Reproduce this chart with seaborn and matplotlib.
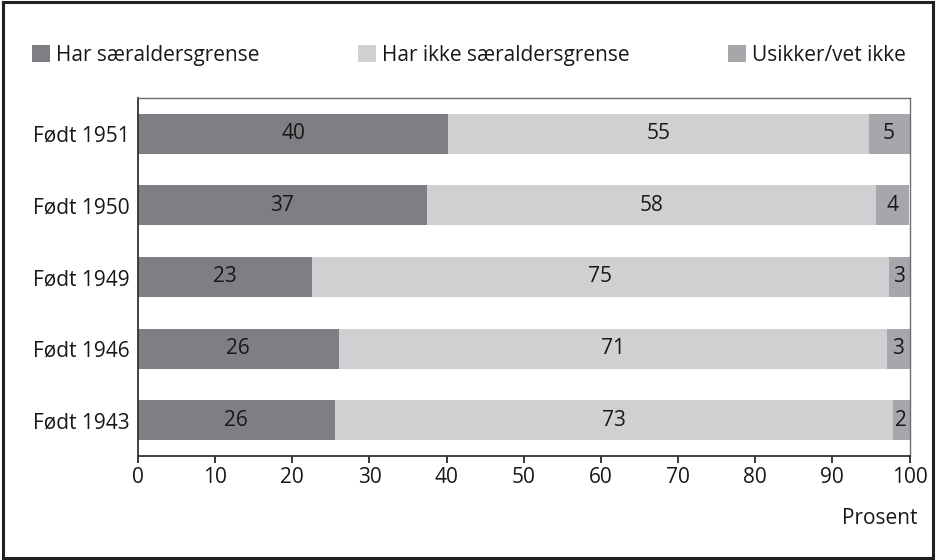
import numpy as np
import pandas as pd
import matplotlib.pyplot as plt
import seaborn as sns
from matplotlib.patches import Patch, Rectangle

# Data (bar widths in percent, labels as printed)
kohorter = ["Født 1951", "Født 1950", "Født 1949", "Født 1946", "Født 1943"]
har_grense = [40.2, 37.4, 22.5, 26.0, 25.5]
har_ikke_grense = [54.5, 58.3, 74.8, 71.1, 72.4]
usikker = [5.3, 4.3, 2.7, 2.9, 2.1]
etiketter_har = [40, 37, 23, 26, 26]
etiketter_ikke = [55, 58, 75, 71, 73]
etiketter_usikker = [5, 4, 3, 3, 2]
serier = ["Har særaldersgrense", "Har ikke særaldersgrense", "Usikker/vet ikke"]
farger = ["#7e7f83", "#cfd0d2", "#a6a7aa"]

sns.set_style("white")
plt.rcParams['font.family'] = ['Open Sans', 'DejaVu Sans']
plt.rcParams['font.size'] = 15
plt.rcParams['text.color'] = '#1a1718'
plt.rcParams['xtick.color'] = '#1a1718'
plt.rcParams['ytick.color'] = '#1a1718'

df = pd.DataFrame({
    "kohort": kohorter,
    "har": har_grense,
    "ikke": har_ikke_grense,
    "usikker": usikker,
})
df["kum1"] = df["har"]
df["kum2"] = df["har"] + df["ikke"]
df["kum3"] = df["kum2"] + df["usikker"]

fig = plt.figure(figsize=(9.36, 5.6), dpi=100)
ax = fig.add_axes([138 / 936, 1 - 456 / 560, (909.5 - 138) / 936, (456 - 98) / 560])

# Stacked bars: draw cumulative totals back to front
bredde = 0.56
sns.barplot(data=df, y="kohort", x="kum3", color=farger[2], width=bredde,
            saturation=1, ax=ax, order=kohorter)
sns.barplot(data=df, y="kohort", x="kum2", color=farger[1], width=bredde,
            saturation=1, ax=ax, order=kohorter)
sns.barplot(data=df, y="kohort", x="kum1", color=farger[0], width=bredde,
            saturation=1, ax=ax, order=kohorter)
for p in ax.patches:
    p.set_linewidth(0)

# Value labels centred in each segment
for i in range(len(kohorter)):
    ax.text(df["har"][i] / 2, i, str(etiketter_har[i]), ha="center", va="center")
    ax.text(df["har"][i] + df["ikke"][i] / 2, i, str(etiketter_ikke[i]),
            ha="center", va="center")
    ax.text(df["kum2"][i] + df["usikker"][i] / 2, i, str(etiketter_usikker[i]),
            ha="center", va="center")

ax.set_xlim(0, 100)
ax.set_ylim(4.5, -0.5)
ax.set_xticks(np.arange(0, 101, 10))
ax.set_xlabel("")
ax.set_ylabel("")
ax.tick_params(axis="x", length=5, width=1.2, direction="out", pad=3, bottom=True)
ax.tick_params(axis="y", length=0, pad=6)

for side in ["left", "bottom"]:
    ax.spines[side].set_color("#333333")
    ax.spines[side].set_linewidth(1.3)
for side in ["top", "right"]:
    ax.spines[side].set_color("#6d6e71")
    ax.spines[side].set_linewidth(1.0)

fig.text(918 / 936, 1 - 519 / 560, "Prosent", ha="right", va="center")

handles = [Patch(facecolor=f, edgecolor="none") for f in farger]
fig.legend(handles, serier, ncol=3, loc="lower left", mode="expand",
           bbox_to_anchor=(32 / 936, 1 - 66 / 560, (906 - 32) / 936, 28 / 560),
           frameon=False, handlelength=0.85, handleheight=0.85, handletextpad=0.3,
           borderaxespad=0, borderpad=0, fontsize=15)

fig.add_artist(Rectangle((0.003, 0.004), 0.994, 0.992, transform=fig.transFigure,
                         fill=False, edgecolor="#231f20", linewidth=2.2))

fig.savefig("out.png", dpi=100)
